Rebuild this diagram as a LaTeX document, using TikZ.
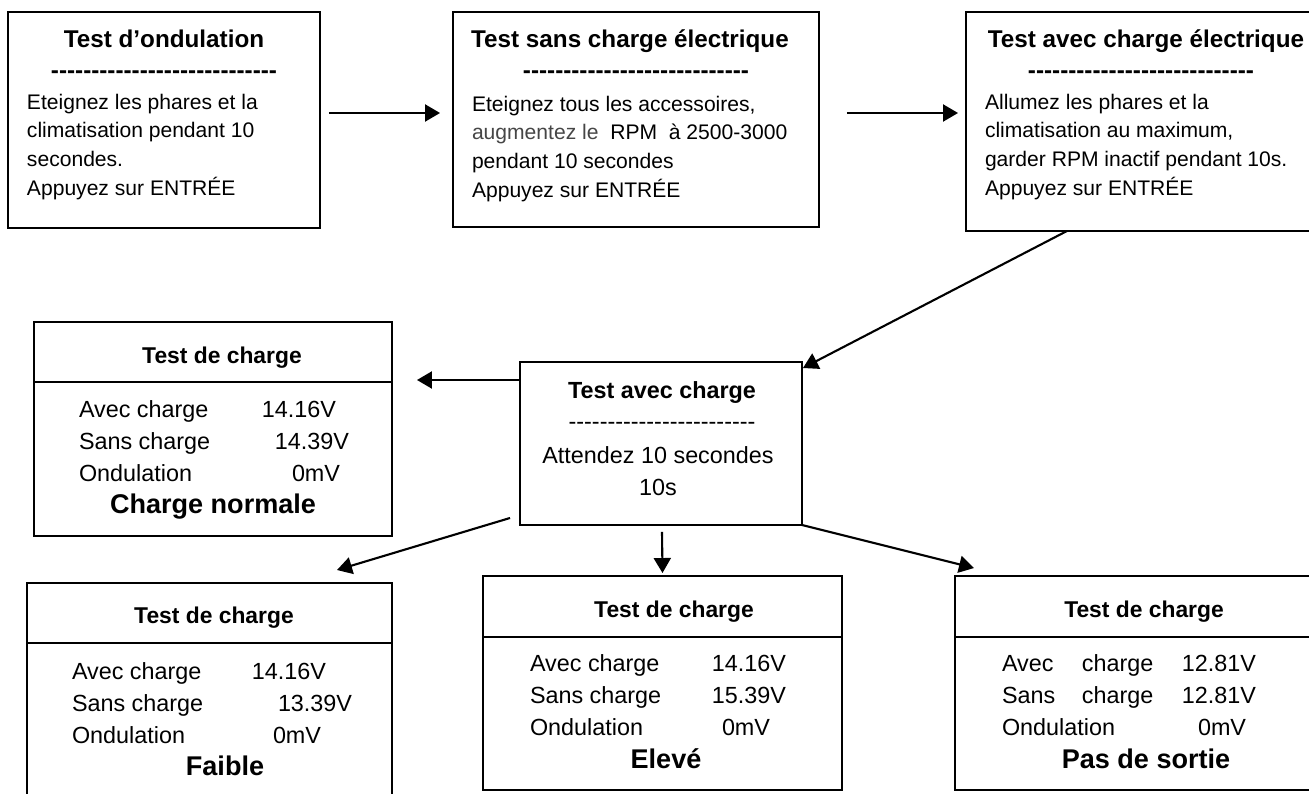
\documentclass[tikz,border=0pt]{standalone}
\usepackage{fontspec}
\setmainfont{Liberation Sans}[Ligatures=TeXOff]
\usetikzlibrary{positioning}
\usetikzlibrary{calc}
\usetikzlibrary{arrows.meta}
\definecolor{diagramgray}{RGB}{70,70,70}
\newlength\pxu
\setlength\pxu{0.02cm}
\newcommand\mrow[3]{\makebox[#2\pxu][l]{#1}#3}

\begin{document}
\begin{tikzpicture}[x=0.02cm, y=-0.02cm,
    every node/.style={inner sep=0pt, outer sep=0pt},
    stepbox/.style={draw, line width=1.1pt},
    conn/.style={line width=1.2pt, -{Triangle[length=0.3cm, width=0.34cm]}},
    boxtitle/.style={font=\bfseries\fontsize{13.8}{16}\selectfont, anchor=base},
    boxtext/.style={font=\fontsize{12}{16.3}\selectfont, align=left, anchor=base west},
    restitle/.style={font=\bfseries\fontsize{13}{16}\selectfont, anchor=base},
    restext/.style={font=\fontsize{13.3}{18}\selectfont, align=left, anchor=base west},
    result/.style={font=\bfseries\fontsize{15.4}{18}\selectfont, anchor=base}]

    \useasboundingbox (0,0) rectangle (1309,794);

    % Top row (multi-line texts sit on their last baseline)
    \node[stepbox, minimum width=6.24cm, minimum height=4.32cm] (ondBox) at (164,120) {};
    \node[boxtitle] (ondTitle) at (164,48) {Test d’ondulation};
    \node[boxtitle] (ondDash) at (164,79) {----------------------------};
    \node[boxtext] (ondText) at (27,195) {Eteignez les phares et la\\climatisation pendant 10\\secondes.\\Appuyez sur ENTRÉE};

    \node[stepbox, minimum width=7.32cm, minimum height=4.30cm] (sansBox) at (636,119.5) {};
    \node[boxtitle] (sansTitle) at (630,48) {Test sans charge électrique};
    \node[boxtitle] (sansDash) at (636,79) {----------------------------};
    \node[boxtext] (sansText) at (472,197) {Eteignez tous les accessoires,\\\textcolor{diagramgray}{augmentez le}\ \ RPM\ \ à 2500-3000\\pendant 10 secondes\\Appuyez sur ENTRÉE};

    \node[stepbox, minimum width=7.2cm, minimum height=4.38cm] (avecBox) at (1146,121.5) {};
    \node[boxtitle] (avecTitle) at (1146,48) {Test avec charge électrique};
    \node[boxtitle] (avecDash) at (1141,79) {----------------------------};
    \node[boxtext] (avecText) at (985,195) {Allumez les phares et la\\climatisation au maximum,\\garder RPM inactif pendant 10s.\\Appuyez sur ENTRÉE};

    % Middle box
    \node[stepbox, minimum width=5.64cm, minimum height=3.26cm] (attBox) at (661,443.5) {};
    \node[font=\bfseries\fontsize{13.3}{16}\selectfont, anchor=base] (attTitle) at (662,398) {Test avec charge};
    \node[font=\fontsize{13.3}{16}\selectfont, anchor=base] (attDash) at (662,429) {------------------------};
    \node[font=\fontsize{13.3}{18}\selectfont, align=center, anchor=base] (attText) at (658,495) {Attendez 10 secondes\\10s};

    % Results
    \node[stepbox, minimum width=7.16cm, minimum height=4.28cm] (normBox) at (213,429) {};
    \draw[line width=1.1pt] ($(normBox.north west)+(0,60)$) -- ($(normBox.north east)+(0,60)$);
    \node[restitle] (normTitle) at (222,363) {Test de charge};
    \node[restext] (normText) at (79,481) {\mrow{Avec charge}{183}{14.16V}\\\mrow{Sans charge}{196}{14.39V}\\\mrow{Ondulation}{213}{0mV}};
    \node[result] (normRes) at (213,513) {Charge normale};

    \node[stepbox, minimum width=7.3cm, minimum height=4.74cm] (faibBox) at (209.5,701.5) {};
    \draw[line width=1.1pt] ($(faibBox.north west)+(0,60)$) -- ($(faibBox.north east)+(0,60)$);
    \node[restitle] (faibTitle) at (214,623) {Test de charge};
    \node[restext] (faibText) at (72,743) {\mrow{Avec charge}{180}{14.16V}\\\mrow{Sans charge}{206}{13.39V}\\\mrow{Ondulation}{201}{0mV}};
    \node[result] (faibRes) at (225,775) {Faible};

    \node[stepbox, minimum width=7.18cm, minimum height=4.28cm] (eleveBox) at (662.5,683) {};
    \draw[line width=1.1pt] ($(eleveBox.north west)+(0,61)$) -- ($(eleveBox.north east)+(0,61)$);
    \node[restitle] (eleveTitle) at (674,617) {Test de charge};
    \node[restext] (eleveText) at (530,735) {\mrow{Avec charge}{182}{14.16V}\\\mrow{Sans charge}{182}{15.39V}\\\mrow{Ondulation}{192}{0mV}};
    \node[result] (eleveRes) at (666,768) {Elevé};

    \node[stepbox, minimum width=7.5cm, minimum height=4.28cm] (sortBox) at (1142.5,683) {};
    \draw[line width=1.1pt] ($(sortBox.north west)+(0,61)$) -- ($(sortBox.north east)+(0,61)$);
    \node[restitle] (sortTitle) at (1144,617) {Test de charge};
    \node[restext] (sortText) at (1002,735) {\mrow{\mrow{Avec}{80}{charge}}{180}{12.81V}\\\mrow{\mrow{Sans}{80}{charge}}{180}{12.81V}\\\mrow{Ondulation}{196}{0mV}};
    \node[result] (sortRes) at (1146,768) {Pas de sortie};

    % Arrows
    \draw[conn] ($(ondBox.east)+(9,-7)$) -- ($(sansBox.west)+(-13,-6.5)$);
    \draw[conn] ($(sansBox.east)+(28,-6.5)$) -- ($(avecBox.west)+(-8,-8.5)$);
    \draw[conn] ($(avecBox.south)+(-79,0)$) -- ($(attBox.north east)+(1,6)$);
    \draw[conn] ($(attBox.west)+(0,-63.5)$) -- ($(normBox.east)+(25,-49)$);
    \draw[conn] ($(attBox.south west)+(-10,-7)$) -- ($(faibBox.north east)+(-55,-13)$);
    \draw[conn] ($(attBox.south)+(1,7)$) -- ($(eleveBox.north)+(0,-3)$);
    \draw[conn] (attBox.south east) -- ($(sortBox.north west)+(19,-8)$);

\end{tikzpicture}
\end{document}
